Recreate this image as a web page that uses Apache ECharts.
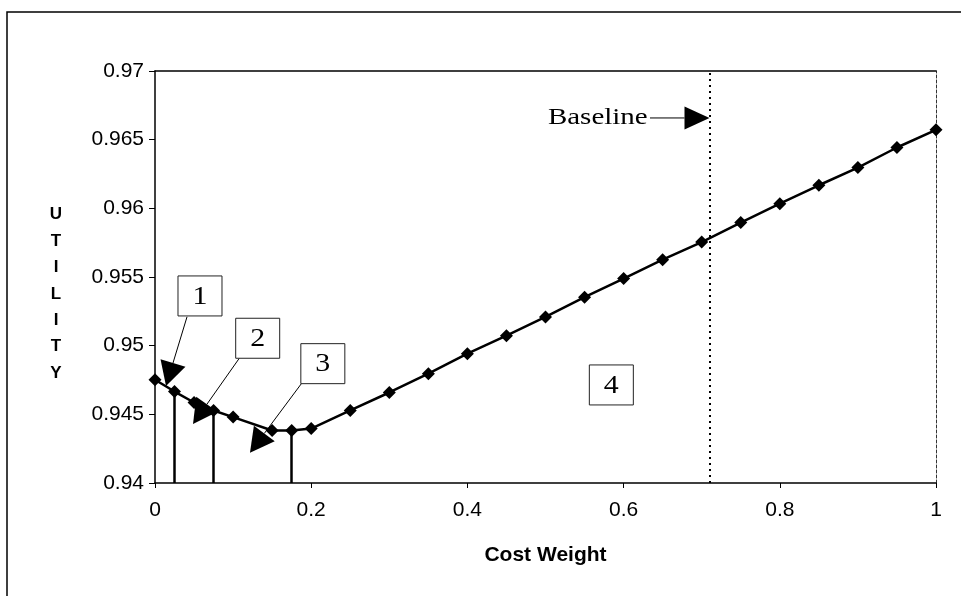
<!DOCTYPE html>
<html>
<head>
<meta charset="utf-8">
<script src="https://cdn.jsdelivr.net/npm/echarts@6/dist/echarts.min.js"></script>
<style>
  html, body { margin: 0; padding: 0; background: #fff; }
  #main { width: 961px; height: 596px; }
</style>
</head>
<body>
<div id="main"></div>
<script>
// data
var costWeight = [0, 0.025, 0.05, 0.075, 0.1, 0.15, 0.175, 0.2, 0.25, 0.3, 0.35, 0.4,
  0.45, 0.5, 0.55, 0.6, 0.65, 0.7, 0.75, 0.8, 0.85, 0.9, 0.95, 1];
var utility = [0.94752, 0.94666, 0.94586, 0.94528, 0.9448, 0.94382, 0.94382, 0.94396,
  0.94528, 0.94659, 0.94796, 0.94942, 0.95073, 0.95209, 0.95353, 0.95489, 0.95626,
  0.95754, 0.95896, 0.96034, 0.96168, 0.96297, 0.96443, 0.96572];
var dropX = [0.025, 0.075, 0.175];   // vertical drop lines to the axis
var baselineX = 0.71;
var yMin = 0.94, yMax = 0.97, yStep = 0.005;
var xMin = 0, xMax = 1, xStep = 0.2;
var yTitle = 'U\nT\nI\nL\nI\nT\nY';

// boxed labels and their arrows, in data units
var boxes = [
  { text: '1', at: [0.0576, 0.95362], from: [0.041, 0.9521], tip: [0.0141, 0.94706] },
  { text: '2', at: [0.1315, 0.95054], from: [0.1079, 0.94908], tip: [0.0487, 0.94430] },
  { text: '3', at: [0.2149, 0.94869], from: [0.1878, 0.94726], tip: [0.1216, 0.94221] },
  { text: '4', at: [0.5843, 0.94714] }
];
var baselineLabel = { text: 'Baseline', at: [0.567, 0.96658], from: [0.6338, 0.96658], tip: [baselineX, 0.96658] };

var points = costWeight.map(function (x, i) { return [x, utility[i]]; });
function valueAt(x) { return utility[costWeight.indexOf(x)]; }

var myChart = echarts.init(document.getElementById('main'));

var axisFont = 'Liberation Sans, Arial, sans-serif';
var serifFont = '"Liberation Serif", "Times New Roman", serif';

option = {
  animation: false,
  backgroundColor: '#fff',
  grid: { left: 155, right: 25, top: 71, bottom: 113 },
  xAxis: [
    {
      type: 'value', min: xMin, max: xMax, interval: xStep,
      name: 'Cost Weight', nameLocation: 'middle', nameGap: 62,
      nameTextStyle: { fontFamily: axisFont, fontSize: 21, fontWeight: 'bold', color: '#000' },
      axisLine: { lineStyle: { color: '#000', width: 1.5 } },
      axisTick: { length: 5, lineStyle: { color: '#000' } },
      axisLabel: { fontFamily: axisFont, fontSize: 21, color: '#000', margin: 17 },
      splitLine: { show: false }
    },
    {
      type: 'value', position: 'top', min: xMin, max: xMax,
      axisLine: { lineStyle: { color: '#000', width: 1.5 } },
      axisTick: { show: false }, axisLabel: { show: false }, splitLine: { show: false }
    }
  ],
  yAxis: [
    {
      type: 'value', min: yMin, max: yMax, interval: yStep,
      axisLine: { show: true, lineStyle: { color: '#000', width: 1.5 } },
      axisTick: { length: 6, lineStyle: { color: '#000' } },
      axisLabel: { fontFamily: axisFont, fontSize: 21, color: '#000', margin: 11 },
      splitLine: { show: false }
    },
    {
      type: 'value', position: 'right', min: yMin, max: yMax,
      axisLine: { show: true, onZero: false, lineStyle: { color: '#333', width: 1, type: [3, 2] } },
      axisTick: { show: false }, axisLabel: { show: false }, splitLine: { show: false }
    }
  ],
  series: [
    {
      type: 'line',
      data: points,
      symbol: 'diamond',
      symbolSize: 13,
      lineStyle: { color: '#000', width: 2.5 },
      itemStyle: { color: '#000' },
      markLine: {
        silent: true,
        symbol: ['none', 'none'],
        label: { show: false },
        lineStyle: { color: '#000', width: 2.5, type: 'solid' },
        data: dropX.map(function (x) {
          return [{ coord: [x, yMin] }, { coord: [x, valueAt(x)] }];
        }).concat([
          { xAxis: baselineX, lineStyle: { color: '#000', width: 2, type: [2, 4] } }
        ])
      }
    }
  ]
};

myChart.setOption(option);

// annotations
function px(p) { return myChart.convertToPixel({ gridIndex: 0 }, p); }

function arrow(from, tip, len, wid) {
  var a = px(from), b = px(tip);
  var dx = b[0] - a[0], dy = b[1] - a[1];
  var d = Math.sqrt(dx * dx + dy * dy);
  var ux = dx / d, uy = dy / d, nx = -uy, ny = ux;
  var bx = b[0] - ux * len, by = b[1] - uy * len;
  return [
    { type: 'line', z: 100, shape: { x1: a[0], y1: a[1], x2: bx, y2: by },
      style: { stroke: '#000', lineWidth: 1 } },
    { type: 'polygon', z: 101,
      shape: { points: [[b[0], b[1]], [bx + nx * wid / 2, by + ny * wid / 2], [bx - nx * wid / 2, by - ny * wid / 2]] },
      style: { fill: '#000' } }
  ];
}

var midY = (px([0, yMin])[1] + px([0, yMax])[1]) / 2;
var graphics = [
  { type: 'rect', z: -1, shape: { x: 7, y: 12, width: 1000, height: 700 },
    style: { fill: 'none', stroke: '#000', lineWidth: 1.5 } },
  // y axis title, stacked letters
  { type: 'text', z: 100, x: 56, y: midY + 17,
    style: { text: yTitle, font: 'bold 17px ' + axisFont, lineHeight: 26.4,
      fill: '#000', align: 'center', verticalAlign: 'middle' } }
];

boxes.forEach(function (b) {
  var c = px(b.at);
  graphics.push({ type: 'rect', z: 102, shape: { x: c[0] - 22, y: c[1] - 20, width: 44, height: 40 },
    style: { fill: '#fff', stroke: '#222', lineWidth: 1 } });
  graphics.push({ type: 'text', z: 103, x: c[0], y: c[1] + 1, scaleX: 1.15,
    style: { text: b.text, font: '26px ' + serifFont,
      fill: '#000', align: 'center', verticalAlign: 'middle' } });
  if (b.tip) graphics = graphics.concat(arrow(b.from, b.tip, 24, 26));
});

var bc = px(baselineLabel.at);
graphics.push({ type: 'text', z: 103, x: bc[0], y: bc[1], scaleX: 1.26,
  style: { text: baselineLabel.text, font: '23px ' + serifFont,
    fill: '#000', align: 'center', verticalAlign: 'middle' } });
graphics = graphics.concat(arrow(baselineLabel.from, baselineLabel.tip, 25, 23));

myChart.setOption({ graphic: graphics });
</script>
</body>
</html>
